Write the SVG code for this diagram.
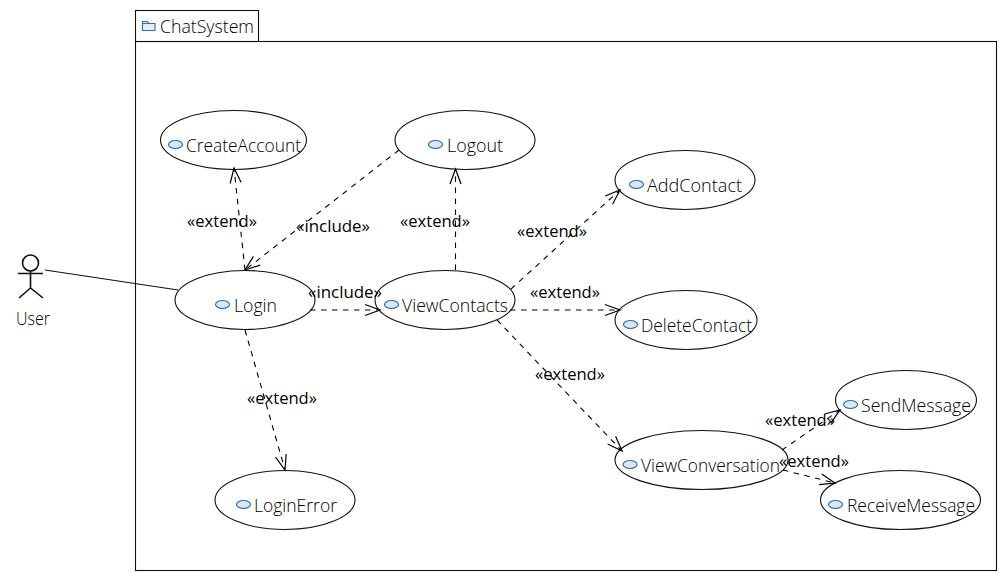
<svg xmlns="http://www.w3.org/2000/svg" width="1006" height="581" viewBox="0 0 1006 581">
<style>
text{font-family:"Open Sans","Noto Sans","Liberation Sans",sans-serif;font-size:17.5px;fill:#000;font-weight:300}
.u{fill:#fff;stroke:#111;stroke-width:1.1}
.i{fill:#dce8f4;stroke:#2b70ad;stroke-width:1.2}
.d{fill:none;stroke:#000;stroke-width:1.1;stroke-dasharray:5.500 5.500;marker-end:url(#a)}
.s{fill:none;stroke:#111;stroke-width:1.2}
.p{fill:#fff;stroke:#111;stroke-width:1.1}
text.l{font-size:16.500px;font-weight:400}
</style>
<defs>
<marker id="a" markerUnits="userSpaceOnUse" markerWidth="18" markerHeight="18" refX="16" refY="8" orient="auto" overflow="visible">
<path d="M1 2.500L16 8L1 13.500" fill="none" stroke="#000" stroke-width="1.200"/>
</marker>
</defs>
<rect width="1006" height="581" fill="#fff"/>
<g id="ChatSystem">
<rect class="p" x="135.500" y="41.500" width="861" height="529"/>
<rect class="p" x="135.500" y="10.500" width="123" height="31"/>
<path d="M142.500 21.500h5l1.500 2h6v7h-12.500zM142.500 23.500h12.500" fill="#e6eff8" stroke="#2b70ad" stroke-width="1.100"/>
<text x="160" y="33" textLength="94" lengthAdjust="spacingAndGlyphs">ChatSystem</text>
</g>
<g id="User">
<circle class="s" cx="30.500" cy="263" r="8" style="stroke-width:1.600"/>
<path class="s" d="M18 273.500H43M30.500 271V288M19 298L30.500 288L43 298" style="stroke-width:1.600"/>
<text x="16" y="325" textLength="34" lengthAdjust="spacingAndGlyphs">User</text>
</g>
<g id="CreateAccount"><ellipse class="u" cx="233.500" cy="140" rx="73" ry="29.500"/><ellipse class="i" cx="175.500" cy="144.500" rx="7" ry="4"/><text x="186" y="152" textLength="115" lengthAdjust="spacingAndGlyphs">CreateAccount</text></g>
<g id="Logout"><ellipse class="u" cx="465" cy="140" rx="70" ry="29.500"/><ellipse class="i" cx="435.500" cy="144.500" rx="7" ry="4"/><text x="447" y="152" textLength="56" lengthAdjust="spacingAndGlyphs">Logout</text></g>
<g id="AddContact"><ellipse class="u" cx="685" cy="180" rx="70" ry="29.500"/><ellipse class="i" cx="636.500" cy="184.500" rx="7" ry="4"/><text x="647" y="192" textLength="95" lengthAdjust="spacingAndGlyphs">AddContact</text></g>
<g id="DeleteContact"><ellipse class="u" cx="686" cy="320" rx="71" ry="29.500"/><ellipse class="i" cx="630.500" cy="324.500" rx="7" ry="4"/><text x="641" y="332" textLength="111" lengthAdjust="spacingAndGlyphs">DeleteContact</text></g>
<g id="Login"><ellipse class="u" cx="245" cy="300" rx="70" ry="29.500"/><ellipse class="i" cx="222.500" cy="304.500" rx="7" ry="4"/><text x="234" y="312" textLength="43" lengthAdjust="spacingAndGlyphs">Login</text></g>
<g id="ViewContacts"><ellipse class="u" cx="445" cy="300" rx="70" ry="29.500"/><ellipse class="i" cx="391.500" cy="304.500" rx="7" ry="4"/><text x="402" y="312" textLength="106" lengthAdjust="spacingAndGlyphs">ViewContacts</text></g>
<g id="LoginError"><ellipse class="u" cx="285" cy="500" rx="70" ry="29.500"/><ellipse class="i" cx="243.500" cy="504.500" rx="7" ry="4"/><text x="254" y="512" textLength="83" lengthAdjust="spacingAndGlyphs">LoginError</text></g>
<g id="ViewConversation"><ellipse class="u" cx="701.500" cy="460" rx="86.500" ry="29.500"/><ellipse class="i" cx="630" cy="464.500" rx="7" ry="4"/><text x="641" y="472" textLength="139" lengthAdjust="spacingAndGlyphs">ViewConversation</text></g>
<g id="SendMessage"><ellipse class="u" cx="906" cy="400" rx="70.500" ry="29.500"/><ellipse class="i" cx="850.500" cy="404.500" rx="7" ry="4"/><text x="861" y="412" textLength="110" lengthAdjust="spacingAndGlyphs">SendMessage</text></g>
<g id="ReceiveMessage"><ellipse class="u" cx="900.500" cy="500" rx="80" ry="29.500"/><ellipse class="i" cx="835.500" cy="504.500" rx="7" ry="4"/><text x="847" y="512" textLength="128" lengthAdjust="spacingAndGlyphs">ReceiveMessage</text></g>
<g id="connectors">
<path class="s" d="M45 270L178 290"/>
<path class="d" d="M245 270L234 168"/>
<path class="d" d="M399 150L245 270"/>
<path class="d" d="M310 310H380"/>
<path class="d" d="M455.500 270V169"/>
<path class="d" d="M511 289L620 190"/>
<path class="d" d="M510 310H620"/>
<path class="d" d="M497 320L622 451"/>
<path class="d" d="M245 330L285 470"/>
<path class="d" d="M782 450L840 410"/>
<path class="d" d="M783 470L835 483"/>
<g>
<text class="l" x="187" y="227" textLength="70" lengthAdjust="spacingAndGlyphs">«extend»</text>
<text class="l" x="296" y="232" textLength="74" lengthAdjust="spacingAndGlyphs">«include»</text>
<text class="l" x="400" y="227" textLength="70" lengthAdjust="spacingAndGlyphs">«extend»</text>
<text class="l" x="517" y="237" textLength="70" lengthAdjust="spacingAndGlyphs">«extend»</text>
<text class="l" x="308" y="298" textLength="74" lengthAdjust="spacingAndGlyphs">«include»</text>
<text class="l" x="530" y="298" textLength="70" lengthAdjust="spacingAndGlyphs">«extend»</text>
<text class="l" x="535" y="380" textLength="70" lengthAdjust="spacingAndGlyphs">«extend»</text>
<text class="l" x="247" y="404" textLength="70" lengthAdjust="spacingAndGlyphs">«extend»</text>
<text class="l" x="765" y="426" textLength="70" lengthAdjust="spacingAndGlyphs">«extend»</text>
<text class="l" x="779" y="467" textLength="70" lengthAdjust="spacingAndGlyphs">«extend»</text>
</g>
</g>
</svg>
